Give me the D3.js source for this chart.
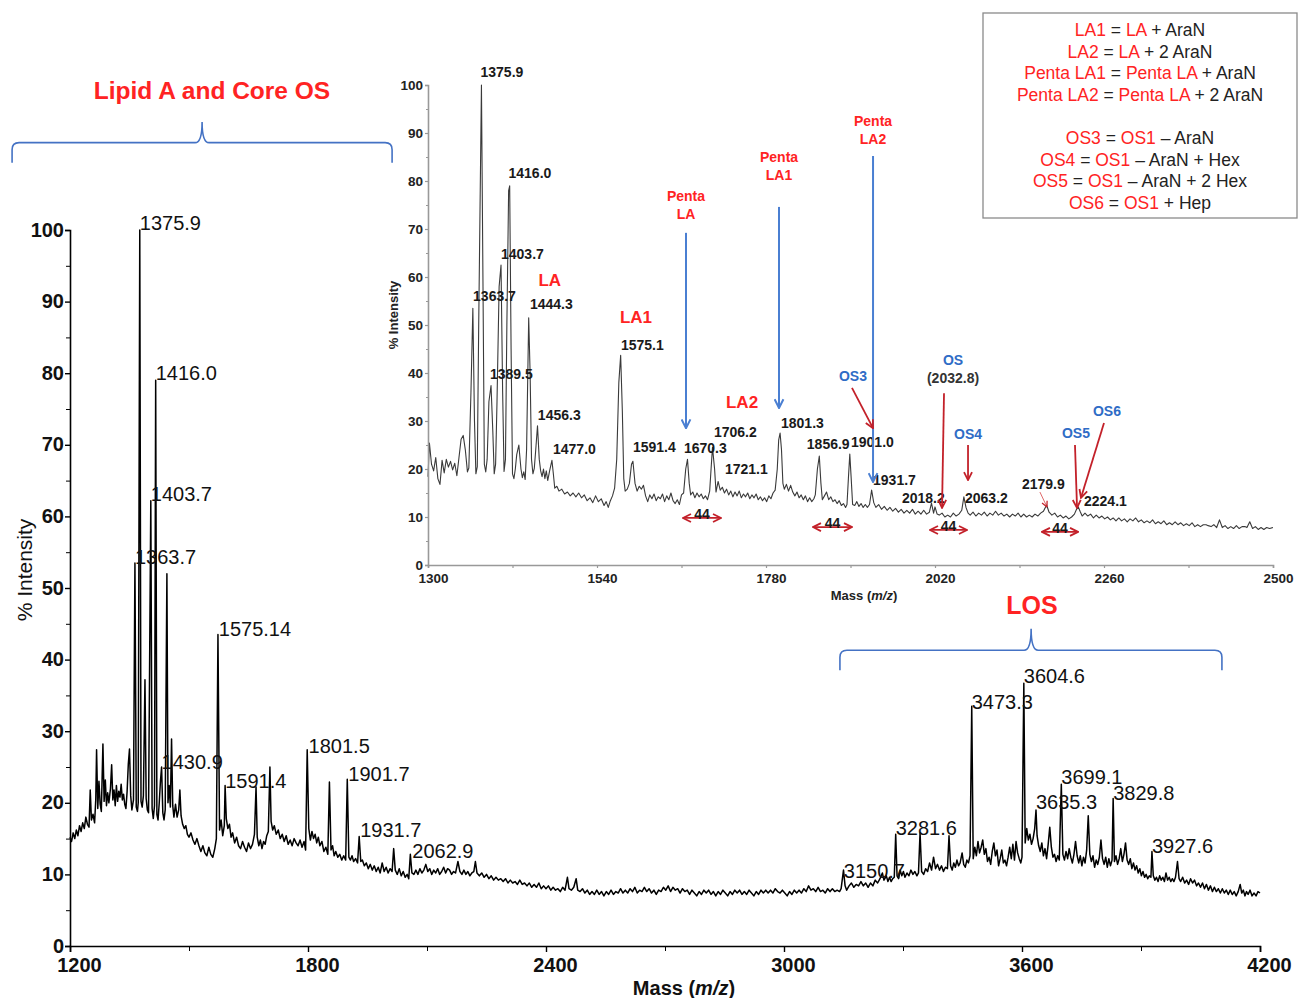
<!DOCTYPE html>
<html>
<head>
<meta charset="utf-8">
<script src="https://d3js.org/d3.v7.min.js"></script>
<style>
  body { margin: 0; background: #fff; }
  svg { display: block; font-family: "Liberation Sans", Arial, sans-serif; }
</style>
</head>
<body>
<div id="chart"></div>
<script>
// ---- main spectrum (mass, % intensity) ----
var mainSpectrum = [
  [1200,15.2],[1204,14.6],[1208,15.8],[1212,15.0],[1216,16.2],[1220,15.4],[1224,16.8],[1228,16.0],[1232,17.2],[1236,16.4],
  [1240,18.0],[1244,17.0],[1248,16.6],[1251,21.8],[1254,17.6],[1258,18.4],[1262,17.2],[1265,20.5],[1267,27.4],[1270,19.2],
  [1273,23.0],[1276,19.8],[1279,18.8],[1283,28.2],[1286,20.2],[1289,23.2],[1292,19.6],[1295,21.4],[1298,20.0],[1302,22.0],
  [1305,25.3],[1308,20.4],[1311,21.8],[1314,19.6],[1317,22.4],[1320,20.2],[1323,21.6],[1326,20.8],[1329,22.6],[1332,20.4],
  [1335,21.2],[1338,19.8],[1341,19.2],[1344,21.6],[1347,25.4],[1350,27.5],[1353,21.0],[1356,19.0],[1360,20.4],[1363.7,53.5],
  [1367,19.4],[1370,18.8],[1372,20.0],[1375.9,100],[1379,20.2],[1382,19.4],[1385,21.0],[1389,37.2],[1392,20.6],[1395,19.0],
  [1398,18.6],[1403.7,62.2],[1407,19.2],[1410,17.8],[1413,19.6],[1416,79],[1419,18.4],[1422,17.6],[1425,20.0],[1428,23.0],
  [1430.9,25.0],[1434,18.6],[1437,17.6],[1440,19.0],[1444.3,52.0],[1447,20.0],[1450,22.4],[1453,19.4],[1456,28.9],[1459,19.6],
  [1462,18.0],[1466,19.8],[1470,18.0],[1474,19.0],[1477,21.8],[1480,18.2],[1484,17.0],[1488,16.4],[1492,16.8],[1496,15.6],
  [1500,15.2],[1505,15.8],[1510,14.8],[1515,14.2],[1520,15.0],[1525,14.0],[1530,13.2],[1535,14.0],[1540,13.0],[1545,12.6],
  [1550,13.8],[1555,12.8],[1560,12.4],[1565,13.6],[1569,15.0],[1573,43.5],[1577,16.2],[1581,17.6],[1585,15.4],[1589,16.8],
  [1591,22.4],[1594,17.8],[1598,16.4],[1602,17.0],[1606,15.2],[1610,15.8],[1615,14.4],[1620,15.2],[1625,14.0],[1630,13.6],
  [1635,14.6],[1640,13.8],[1645,13.2],[1650,14.4],[1655,13.6],[1660,14.2],[1665,15.6],[1669,22.2],[1672,15.2],[1676,14.0],
  [1680,14.8],[1684,13.6],[1688,14.6],[1692,14.2],[1696,15.4],[1700,16.0],[1704,25.0],[1707,17.4],[1711,16.2],[1715,16.8],
  [1720,15.6],[1725,16.2],[1730,15.0],[1735,15.6],[1740,14.6],[1745,15.4],[1750,14.2],[1755,14.8],[1760,14.0],[1765,15.0],
  [1770,14.4],[1775,14.0],[1780,14.8],[1785,13.8],[1790,14.6],[1794,13.4],[1798,27.4],[1802,16.4],[1806,14.8],[1810,16.0],
  [1814,15.0],[1818,15.6],[1822,14.4],[1826,15.2],[1830,14.0],[1835,14.6],[1840,13.2],[1845,13.8],[1850,12.8],[1854,22.9],
  [1858,13.4],[1862,14.0],[1866,12.6],[1870,13.2],[1875,12.4],[1880,12.8],[1885,12.0],[1890,12.6],[1895,12.0],[1899,23.3],
  [1903,12.4],[1907,12.0],[1911,12.6],[1915,11.8],[1920,12.2],[1925,11.6],[1929,15.3],[1933,11.8],[1937,12.0],[1942,11.2],
  [1947,11.6],[1952,10.8],[1957,11.4],[1962,10.6],[1967,11.2],[1972,10.4],[1977,11.0],[1982,10.2],[1987,11.6],[1992,10.4],
  [1997,11.0],[2002,10.2],[2007,10.8],[2012,10.4],[2016,13.6],[2020,10.6],[2025,10.0],[2030,10.8],[2035,9.8],[2040,10.4],
  [2045,9.6],[2050,10.0],[2054,9.4],[2058,12.8],[2062,10.2],[2067,10.0],[2072,10.6],[2077,10.0],[2082,10.8],[2087,10.2],
  [2092,10.6],[2097,11.4],[2102,10.4],[2107,10.8],[2112,10.0],[2117,10.6],[2122,10.2],[2127,10.8],[2132,10.0],[2137,10.4],
  [2142,11.0],[2147,10.2],[2152,10.8],[2157,10.6],[2162,10.0],[2167,10.4],[2172,10.2],[2178,11.8],[2183,10.4],[2188,10.0],
  [2193,10.6],[2198,10.0],[2203,10.4],[2208,9.8],[2213,10.2],[2218,10.4],[2222,11.8],[2226,10.2],[2232,9.8],[2238,10.2],
  [2244,9.6],[2250,10.0],[2256,9.4],[2262,9.8],[2268,9.2],[2274,9.6],[2280,9.2],[2286,9.4],[2292,9.0],[2298,9.4],
  [2304,8.8],[2310,9.2],[2316,8.8],[2322,9.0],[2328,8.6],[2334,9.2],[2340,8.6],[2346,8.8],[2352,8.4],[2358,8.8],
  [2364,8.2],[2370,8.6],[2376,8.2],[2382,8.8],[2388,8.0],[2394,8.4],[2400,8.0],[2406,8.4],[2412,7.8],[2418,8.2],
  [2424,7.8],[2430,8.0],[2436,7.6],[2442,8.2],[2448,7.8],[2454,9.6],[2458,8.0],[2464,7.8],[2470,8.2],[2476,9.4],
  [2480,7.8],[2486,7.6],[2492,8.0],[2498,7.4],[2504,7.8],[2510,7.2],[2516,7.6],[2522,7.2],[2528,7.8],[2534,7.2],
  [2540,7.6],[2546,7.0],[2552,7.6],[2558,7.2],[2564,7.8],[2570,7.2],[2576,7.6],[2582,7.4],[2588,8.0],[2594,7.4],
  [2600,7.8],[2606,7.4],[2612,8.0],[2618,7.6],[2624,8.2],[2630,7.4],[2636,7.8],[2642,7.6],[2648,8.2],[2654,7.6],
  [2660,8.0],[2666,7.4],[2672,7.8],[2678,7.2],[2684,7.8],[2690,7.6],[2696,8.2],[2702,7.8],[2708,8.4],[2714,7.6],
  [2720,8.2],[2726,7.8],[2732,8.0],[2738,7.4],[2744,8.0],[2750,7.6],[2756,7.8],[2762,7.2],[2768,7.8],[2774,7.4],
  [2780,7.0],[2786,7.6],[2792,7.2],[2798,7.8],[2804,7.4],[2810,7.8],[2816,7.2],[2822,7.6],[2828,7.0],[2834,7.6],
  [2840,7.2],[2846,7.8],[2852,7.4],[2858,7.0],[2864,7.6],[2870,7.2],[2876,7.8],[2882,7.4],[2888,7.8],[2894,7.2],
  [2900,7.6],[2906,7.2],[2912,7.8],[2918,7.4],[2924,7.0],[2930,7.6],[2936,7.2],[2942,7.8],[2948,7.4],[2954,7.8],
  [2960,7.4],[2966,7.8],[2972,7.4],[2978,8.0],[2984,7.6],[2990,7.4],[2996,7.8],[3002,7.4],[3008,7.0],[3014,7.6],
  [3020,7.2],[3026,7.8],[3032,7.4],[3038,7.8],[3044,7.4],[3050,8.0],[3056,7.6],[3062,8.4],[3068,7.8],[3074,8.0],
  [3080,7.6],[3086,8.2],[3092,7.6],[3098,7.8],[3104,7.4],[3110,8.0],[3116,7.6],[3122,8.0],[3128,7.6],[3134,7.8],
  [3140,7.6],[3144,8.0],[3150,10.6],[3154,8.4],[3158,7.8],[3164,8.4],[3170,8.8],[3176,8.2],[3182,8.6],[3188,8.4],
  [3194,9.0],[3200,8.4],[3206,8.8],[3212,8.2],[3218,8.8],[3224,8.4],[3230,9.2],[3236,8.8],[3242,9.4],[3248,10.2],
  [3252,9.2],[3258,9.8],[3262,9.0],[3266,9.6],[3270,9.0],[3274,9.4],[3278,9.6],[3281.6,15.6],[3285,9.8],[3289,9.4],
  [3293,10.6],[3297,9.8],[3301,10.4],[3305,9.6],[3310,10.2],[3315,9.8],[3320,10.6],[3325,10.0],[3330,10.4],[3335,9.8],
  [3339,10.2],[3343,15.8],[3347,10.4],[3352,10.0],[3357,10.8],[3362,10.4],[3367,11.6],[3372,10.6],[3377,12.4],[3382,10.8],
  [3387,11.4],[3392,10.6],[3397,11.2],[3402,10.4],[3407,11.0],[3412,10.8],[3416,15.4],[3420,11.2],[3424,10.6],[3428,11.6],
  [3432,11.0],[3436,12.0],[3440,11.2],[3444,11.6],[3449,13.0],[3453,11.4],[3457,11.0],[3461,12.0],[3465,11.6],[3469,12.6],
  [3473.3,33.5],[3477,12.2],[3481,13.8],[3485,12.6],[3489,14.6],[3493,13.0],[3497,13.8],[3501,14.8],[3505,12.8],[3509,13.6],
  [3513,11.8],[3517,12.4],[3521,11.4],[3525,13.2],[3529,14.4],[3533,12.6],[3537,13.4],[3541,11.2],[3545,12.2],[3549,13.4],
  [3553,11.6],[3557,12.0],[3561,11.2],[3565,12.4],[3569,13.8],[3573,12.2],[3577,14.2],[3581,12.0],[3585,14.6],[3589,13.0],
  [3593,12.2],[3597,11.6],[3600,12.4],[3604.6,36.7],[3608,14.4],[3612,16.4],[3616,14.8],[3620,15.6],[3624,14.2],[3628,15.0],
  [3632,16.4],[3635.3,19.0],[3638,15.4],[3642,14.0],[3646,13.2],[3650,14.4],[3654,12.6],[3658,13.6],[3662,12.2],[3666,14.2],
  [3670,16.6],[3674,13.8],[3678,12.4],[3682,12.8],[3686,11.8],[3690,12.6],[3694,12.0],[3699.1,22.6],[3703,12.8],[3707,12.0],
  [3711,13.2],[3715,12.2],[3719,13.6],[3723,12.4],[3727,11.6],[3731,12.8],[3735,14.6],[3739,12.6],[3743,11.6],[3747,12.6],
  [3751,11.2],[3755,12.4],[3759,11.6],[3763,13.4],[3767,18.2],[3771,12.8],[3775,11.8],[3779,12.6],[3783,11.0],[3787,12.0],
  [3791,11.4],[3795,12.4],[3799,14.8],[3803,12.2],[3807,11.4],[3811,12.4],[3815,11.0],[3819,12.2],[3823,11.2],[3827,12.0],
  [3829.8,20.6],[3833,11.8],[3837,12.6],[3841,11.4],[3845,12.2],[3849,13.6],[3853,11.8],[3857,12.8],[3861,14.4],[3865,12.0],
  [3869,11.4],[3873,12.2],[3877,10.8],[3881,11.6],[3885,10.6],[3889,11.2],[3893,10.2],[3897,10.8],[3901,9.8],[3905,10.4],
  [3909,9.6],[3913,10.0],[3917,9.4],[3921,9.8],[3925,9.6],[3927.6,13.2],[3931,9.8],[3935,9.2],[3939,9.6],[3943,9.0],
  [3947,9.8],[3951,9.2],[3955,9.6],[3959,9.0],[3963,10.2],[3967,9.2],[3971,9.6],[3975,9.0],[3979,9.4],[3983,9.0],
  [3987,9.6],[3992,11.8],[3996,9.4],[4000,9.0],[4005,9.6],[4010,8.8],[4015,9.2],[4020,8.6],[4025,9.4],[4030,8.8],
  [4035,9.2],[4040,8.4],[4045,8.8],[4050,8.2],[4055,8.8],[4060,8.0],[4065,8.6],[4070,7.8],[4075,8.4],[4080,7.6],
  [4085,8.2],[4090,7.6],[4095,8.0],[4100,7.4],[4105,8.0],[4110,7.4],[4115,7.8],[4120,7.2],[4125,7.8],[4130,7.2],
  [4135,7.6],[4140,7.0],[4145,7.6],[4150,8.6],[4154,7.4],[4158,7.8],[4162,7.0],[4166,7.6],[4170,7.2],[4175,7.8],
  [4180,7.0],[4185,7.4],[4190,7.0],[4195,7.6],[4200,7.4]
];

// labelled peaks in the main panel: text, mass (text start), intensity (text baseline)
var mainPeakLabels = [
  ["1375.9",1375.9,100],["1416.0",1416,79],["1403.7",1403.7,62.2],["1363.7",1363.7,53.4],
  ["1575.14",1575.14,43.3],["1430.9",1430.9,24.7],["1591.4",1591.4,22.1],["1801.5",1801.5,27],
  ["1901.7",1901.7,23],["1931.7",1931.7,15.2],["2062.9",2062.9,12.3],["3150.7",3150.7,9.5],
  ["3281.6",3281.6,15.5],["3473.3",3473.3,33.1],["3604.6",3604.6,36.7],["3699.1",3699.1,22.6],
  ["3635.3",3635.3,19.1],["3829.8",3829.8,20.4],["3927.6",3927.6,13]
];
var mainXTicks = [1200, 1800, 2400, 3000, 3600, 4200];
var mainXMinor = [1500, 2100, 2700, 3300, 3900];
var mainYTicks = [0, 10, 20, 30, 40, 50, 60, 70, 80, 90, 100];
var mainYMinor = [5, 15, 25, 35, 45, 55, 65, 75, 85, 95];

// region braces: from, to, middle (mass); foot, bar, tip (intensity)
var braceSpans = [[1054, 2012, 1533, 109.4, 112.2, 115.1], [3141, 4104, 3623, 38.5, 41.3, 44.3]];
var braceTitles = [["Lipid A and Core OS", 1558, 118.3], ["LOS", 3625, 46.4]];

// ---- zoomed inset spectrum ----
var insetSpectrum = [
  [1300,18.4],[1302,25.4],[1305,21.0],[1308,19.6],[1311,22.4],[1314,18.0],[1317,16.8],[1320,21.8],[1323,19.2],[1326,22.0],
  [1329,20.4],[1332,21.6],[1335,19.8],[1338,21.2],[1341,18.6],[1344,22.4],[1347,26.2],[1350,27.0],[1353,24.0],[1356,19.4],
  [1358,20.2],[1361,36.0],[1363.7,53.5],[1366,30.0],[1368,19.0],[1370,20.5],[1372,50.0],[1375.9,100],[1378,60.0],[1380,21.0],
  [1382,19.4],[1384,22.0],[1386.5,34.0],[1389.5,37.4],[1392,28.0],[1394,19.0],[1396,21.0],[1398,34.0],[1401,58.0],[1403.7,62.5],
  [1406,36.0],[1408,19.5],[1410,22.0],[1412,50.0],[1414.5,78.0],[1416,79.0],[1418,45.0],[1420,19.0],[1422,18.0],[1424,20.0],
  [1426,23.0],[1429,25.0],[1432,20.0],[1434,18.2],[1436,19.4],[1438,17.8],[1440,24.0],[1443,51.5],[1445,40.0],[1447,22.0],
  [1449,19.0],[1451,20.2],[1453,24.0],[1455.5,29.0],[1458,22.0],[1460,19.6],[1462,18.4],[1464,20.0],[1466,18.0],[1468,19.6],
  [1470,17.6],[1473,19.8],[1476,21.8],[1478,19.0],[1480,16.0],[1483,16.4],[1486,15.4],[1490,15.8],[1494,14.8],[1498,15.2],
  [1502,14.4],[1506,15.0],[1510,14.2],[1514,15.0],[1518,14.0],[1522,14.6],[1526,13.4],[1530,14.0],[1534,13.0],[1538,14.4],
  [1542,13.2],[1546,13.8],[1550,12.4],[1553,13.2],[1556,12.0],[1559,13.4],[1562,14.4],[1565,16.0],[1568,22.0],[1571,38.0],
  [1573.6,43.7],[1576,32.0],[1578,18.0],[1580,15.4],[1583,15.8],[1586,17.0],[1589,21.0],[1591,21.6],[1594,17.0],[1597,15.4],
  [1600,16.4],[1603,15.8],[1606,16.6],[1609,14.4],[1612,13.2],[1615,14.6],[1618,13.8],[1621,14.8],[1624,13.4],[1627,14.2],
  [1630,13.8],[1633,14.8],[1636,13.2],[1639,14.4],[1642,13.6],[1645,15.0],[1648,13.4],[1651,12.8],[1654,13.6],[1657,12.6],
  [1660,14.6],[1663,15.0],[1666,20.0],[1668.5,22.0],[1671,17.0],[1673,14.6],[1676,15.2],[1679,14.0],[1682,15.0],[1685,14.2],
  [1688,14.8],[1691,13.8],[1694,14.4],[1697,13.6],[1700,15.4],[1702,20.0],[1704,24.5],[1707,20.0],[1709,15.2],[1712,17.4],
  [1715,15.6],[1718,16.2],[1721,15.0],[1724,15.8],[1727,14.6],[1730,15.4],[1733,14.2],[1736,15.2],[1739,14.4],[1742,15.4],
  [1745,14.0],[1748,14.8],[1751,14.2],[1754,15.0],[1757,13.8],[1760,14.6],[1763,14.0],[1766,14.8],[1769,13.6],[1772,14.2],
  [1775,13.4],[1778,14.0],[1781,13.2],[1784,14.4],[1787,13.8],[1790,15.0],[1793,15.6],[1796,20.0],[1798,26.0],[1800,27.5],
  [1802,24.0],[1804,17.0],[1806,15.8],[1809,16.8],[1812,15.4],[1815,16.6],[1818,15.2],[1821,14.4],[1824,15.2],[1827,14.0],
  [1830,14.6],[1833,13.6],[1836,14.4],[1839,13.2],[1842,14.0],[1845,13.2],[1848,13.8],[1850,14.6],[1853,20.0],[1855.7,22.7],
  [1858,17.0],[1860,13.6],[1863,14.4],[1866,15.2],[1869,13.6],[1872,14.2],[1875,13.2],[1878,13.6],[1881,12.8],[1884,13.4],
  [1887,12.4],[1890,12.8],[1893,12.0],[1895,12.6],[1897,18.0],[1899,23.1],[1901,18.0],[1903,12.6],[1906,12.4],[1909,13.2],
  [1912,12.2],[1915,12.8],[1918,12.0],[1921,12.6],[1924,12.0],[1927,12.6],[1930,15.6],[1933,13.0],[1936,12.0],[1940,12.6],
  [1944,11.6],[1948,12.2],[1952,11.4],[1956,12.0],[1960,11.2],[1964,11.8],[1968,11.0],[1972,11.6],[1976,10.8],[1980,11.4],
  [1984,10.8],[1988,11.6],[1992,10.6],[1996,11.2],[2000,10.6],[2004,11.4],[2008,10.6],[2012,11.0],[2015,12.9],[2018,10.8],
  [2020,12.1],[2023,10.6],[2026,10.4],[2030,10.8],[2034,10.0],[2038,10.4],[2042,10.0],[2046,10.8],[2050,10.2],[2054,10.6],
  [2058,11.4],[2061,14.2],[2064,12.0],[2067,10.8],[2070,10.4],[2074,11.0],[2078,10.2],[2082,10.8],[2086,10.4],[2090,11.0],
  [2094,10.2],[2098,10.8],[2102,10.4],[2106,11.2],[2110,10.4],[2114,10.8],[2118,10.2],[2122,10.6],[2126,10.0],[2130,10.6],
  [2134,10.2],[2138,10.8],[2142,10.0],[2146,10.6],[2150,10.0],[2154,10.4],[2158,10.0],[2162,10.6],[2166,10.2],[2170,10.8],
  [2174,11.2],[2178.5,12.5],[2182,11.0],[2186,10.4],[2190,10.8],[2194,10.0],[2198,10.4],[2202,9.8],[2206,10.2],[2210,9.6],
  [2214,10.0],[2218,10.6],[2221,11.6],[2223.5,12.1],[2226,11.2],[2229,10.2],[2233,10.8],[2237,10.2],[2241,10.6],[2245,9.8],
  [2249,10.4],[2253,9.8],[2257,10.2],[2261,9.6],[2265,10.0],[2269,9.4],[2273,9.8],[2277,9.2],[2281,9.8],[2285,9.2],
  [2289,9.6],[2293,9.0],[2297,9.6],[2301,9.2],[2305,9.8],[2309,9.0],[2313,9.4],[2317,8.8],[2321,9.2],[2325,8.8],
  [2329,9.4],[2333,8.6],[2337,9.0],[2341,8.6],[2345,9.2],[2349,8.4],[2353,8.8],[2357,8.4],[2361,9.0],[2365,8.4],
  [2369,8.8],[2373,8.2],[2377,8.6],[2381,8.2],[2385,8.8],[2389,8.0],[2393,8.4],[2397,8.0],[2401,8.4],[2405,8.4],
  [2408,8.2],[2412,8.0],[2416,8.4],[2420,7.8],[2424,9.4],[2428,7.8],[2432,8.2],[2436,7.6],[2440,8.0],[2444,7.6],
  [2448,8.2],[2452,7.6],[2456,8.0],[2460,8.0],[2463,7.8],[2467,9.0],[2471,7.6],[2475,8.0],[2479,7.4],[2483,7.8],
  [2487,7.4],[2491,7.8],[2495,7.6],[2500,7.8]
];

var insetPeakLabels = [
  ["1375.9",1374.6,101.7],["1416.0",1414.3,80.6],["1403.7",1403.7,63.8],["1363.7",1364,55],
  ["1444.3",1444.8,53.3],["1389.5",1388,38.8],["1456.3",1456,30.2],["1477.0",1477.5,23.1],
  ["1575.1",1574,44.8],["1591.4",1591,23.5],["1670.3",1663.5,23.3],["1706.2",1706,26.7],
  ["1721.1",1721.7,19],["1801.3",1801.3,28.5],["1856.9",1838,24.2],["1901.0",1900.7,24.6],
  ["1931.7",1932,16.7],["2018.2",1973,12.9],["2063.2",2062.6,12.9],["2179.9",2143.5,15.8],
  ["2224.1",2231.6,12.3]
];
var insetXTicks = [1300, 1540, 1780, 2020, 2260, 2500];
var insetXMinor = [1420, 1660, 1900, 2140, 2380];
var insetYTicks = [0, 10, 20, 30, 40, 50, 60, 70, 80, 90, 100];
var insetYMinor = [5, 15, 25, 35, 45, 55, 65, 75, 85, 95];

// structure assignments in the inset
var lipidLabels = [["LA", 1473, 58.1], ["LA1", 1595.4, 50.4], ["LA2", 1746, 32.7]];
var pentaLabels = [["LA", 1666.4, 75.8], ["LA1", 1798.5, 84], ["LA2", 1932, 91.5]];
var pentaArrows = [[1666.4, 69.2, 28.5], [1798.5, 74.6, 32.7], [1932, 85.2, 17.3]];
var osLabels = [["OS3", 1903.5, 38.3], ["OS", 2045.6, 41.7], ["OS4", 2066.9, 26.25], ["OS5", 2220.2, 26.5], ["OS6", 2264.2, 31]];
var osMassNote = ["(2032.8)", 2045.6, 37.9];
var osArrows = [[1902.1, 36.9, 1932, 28.5], [2032.8, 35.8, 2030, 11.9], [2066.9, 25, 2066.9, 17.7],
                [2218.8, 25, 2221.7, 11.9], [2260, 29.6, 2227.3, 14]];
var minorArrows = [[2169, 15.2, 2179, 12.1]];
var gapArrows = [[1662.1, 1716.1, 9.8], [1846.7, 1902.1, 7.9], [2012.9, 2065.4, 7.3], [2171.9, 2223.1, 6.9]];
var gapText = "44";

// legend equations: pieces flagged true are structure names (red)
var legendLines = [
  [["LA1", true], [" = ", false], ["LA", true], [" + AraN", false]],
  [["LA2", true], [" = ", false], ["LA", true], [" + 2 AraN", false]],
  [["Penta LA1", true], [" = ", false], ["Penta LA", true], [" + AraN", false]],
  [["Penta LA2", true], [" = ", false], ["Penta LA", true], [" + 2 AraN", false]],
  null,
  [["OS3", true], [" = ", false], ["OS1", true], [" \u2013 AraN", false]],
  [["OS4", true], [" = ", false], ["OS1", true], [" \u2013 AraN + Hex", false]],
  [["OS5", true], [" = ", false], ["OS1", true], [" \u2013 AraN + 2 Hex", false]],
  [["OS6", true], [" = ", false], ["OS1", true], [" + Hep", false]]
];

var RED = "#ff2323", BLUE_TXT = "#2f6cc6", BLUE_LN = "#4a7fd2", DARK_RED = "#c3212a", BRACE = "#4472c4";

var width = 1305, height = 998;
var svg = d3.select("#chart").append("svg").attr("width", width).attr("height", height);

var defs = svg.append("defs");
function addMarker(id, color, size) {
  defs.append("marker")
    .attr("id", id)
    .attr("viewBox", "0 0 10 10")
    .attr("refX", 9).attr("refY", 5)
    .attr("markerWidth", size).attr("markerHeight", size)
    .attr("markerUnits", "userSpaceOnUse")
    .attr("orient", "auto-start-reverse")
    .append("path")
    .attr("d", "M1,1 L9,5 L1,9")
    .attr("fill", "none")
    .attr("stroke", color)
    .attr("stroke-width", 1.8);
}
addMarker("headBlue", BLUE_LN, 11);
addMarker("headRed", DARK_RED, 10);
addMarker("headRedSmall", DARK_RED, 7);

// ================= main panel =================
var xMain = d3.scaleLinear().domain([1200, 4200]).range([70, 1260]);
var yMain = d3.scaleLinear().domain([0, 100]).range([946, 230]);

var gMain = svg.append("g");

gMain.append("path")
  .datum(mainSpectrum)
  .attr("fill", "none")
  .attr("stroke", "#000")
  .attr("stroke-width", 1.5)
  .attr("stroke-linejoin", "round")
  .attr("d", d3.line().x(function(d) { return xMain(d[0]); }).y(function(d) { return yMain(d[1]); }));

// axes
var mx = gMain.append("g").attr("transform", "translate(0," + yMain(0) + ")")
  .call(d3.axisBottom(xMain).tickValues(mainXTicks).tickSize(6).tickPadding(6).tickFormat(d3.format("d")));
gMain.append("g").attr("transform", "translate(0," + yMain(0) + ")")
  .call(d3.axisBottom(xMain).tickValues(mainXMinor).tickSize(5).tickFormat(""))
  .select(".domain").remove();
var my = gMain.append("g").attr("transform", "translate(" + xMain(1200) + ",0)")
  .call(d3.axisLeft(yMain).tickValues(mainYTicks).tickSize(5).tickPadding(1));
gMain.append("g").attr("transform", "translate(" + xMain(1200) + ",0)")
  .call(d3.axisLeft(yMain).tickValues(mainYMinor).tickSize(4).tickFormat(""))
  .select(".domain").remove();

[mx, my].forEach(function(ax) {
  ax.select(".domain").attr("stroke", "#000").attr("stroke-width", 1.6);
  ax.selectAll(".tick line").attr("stroke", "#000").attr("stroke-width", 1.4);
  ax.selectAll(".tick text").attr("font-family", "Liberation Sans, Arial, sans-serif")
    .attr("font-size", 20).attr("font-weight", "bold").attr("fill", "#111");
});
mx.selectAll(".tick text").attr("dx", 9);
my.selectAll(".tick text").attr("dy", "0.3em");
gMain.selectAll("g .tick line").attr("stroke", "#000");

// axis titles
var mt = gMain.append("text")
  .attr("x", 684).attr("y", 995)
  .attr("text-anchor", "middle")
  .attr("font-size", 20).attr("font-weight", "bold").attr("fill", "#111");
mt.append("tspan").text("Mass (");
mt.append("tspan").attr("font-style", "italic").text("m/z");
mt.append("tspan").text(")");

gMain.append("text")
  .attr("transform", "translate(32,570) rotate(-90)")
  .attr("text-anchor", "middle")
  .attr("font-size", 21).attr("fill", "#111")
  .text("% Intensity");

// peak labels
gMain.selectAll("text.peak")
  .data(mainPeakLabels)
  .enter().append("text")
  .attr("class", "peak")
  .attr("x", function(d) { return xMain(d[1]); })
  .attr("y", function(d) { return yMain(d[2]); })
  .attr("font-size", 20).attr("fill", "#111")
  .text(function(d) { return d[0]; });

// region braces
function bracePath(b) {
  var x0 = xMain(b[0]), x1 = xMain(b[1]), xc = xMain(b[2]);
  var yFoot = yMain(b[3]), yBar = yMain(b[4]), yTip = yMain(b[5]), r = 7;
  return "M" + x0 + "," + yFoot + " L" + x0 + "," + (yBar + r) +
    " Q" + x0 + "," + yBar + " " + (x0 + r) + "," + yBar +
    " L" + (xc - r) + "," + yBar + " Q" + xc + "," + yBar + " " + xc + "," + yTip +
    " Q" + xc + "," + yBar + " " + (xc + r) + "," + yBar +
    " L" + (x1 - r) + "," + yBar + " Q" + x1 + "," + yBar + " " + x1 + "," + (yBar + r) +
    " L" + x1 + "," + yFoot;
}
gMain.selectAll("path.brace")
  .data(braceSpans)
  .enter().append("path")
  .attr("class", "brace")
  .attr("d", bracePath)
  .attr("fill", "none")
  .attr("stroke", BRACE)
  .attr("stroke-width", 1.6);

gMain.selectAll("text.region")
  .data(braceTitles)
  .enter().append("text")
  .attr("class", "region")
  .attr("x", function(d) { return xMain(d[1]); })
  .attr("y", function(d) { return yMain(d[2]); })
  .attr("text-anchor", "middle")
  .attr("font-weight", "bold")
  .attr("font-size", function(d, i) { return i === 0 ? 24.5 : 25; })
  .attr("fill", RED)
  .text(function(d) { return d[0]; });

// ================= inset panel =================
var xIn = d3.scaleLinear().domain([1300, 2500]).range([428, 1273]);
var yIn = d3.scaleLinear().domain([0, 100]).range([565, 85]);
var gIn = svg.append("g");

gIn.append("path")
  .datum(insetSpectrum)
  .attr("fill", "none")
  .attr("stroke", "#3a3a3a")
  .attr("stroke-width", 1.1)
  .attr("stroke-linejoin", "round")
  .attr("d", d3.line().x(function(d) { return xIn(d[0]); }).y(function(d) { return yIn(d[1]); }));

var ix = gIn.append("g").attr("transform", "translate(0," + yIn(0) + ")")
  .call(d3.axisBottom(xIn).tickValues(insetXTicks).tickSize(3).tickPadding(5).tickFormat(d3.format("d")));
var ixm = gIn.append("g").attr("transform", "translate(0," + yIn(0) + ")")
  .call(d3.axisBottom(xIn).tickValues(insetXMinor).tickSize(3).tickFormat(""));
var iy = gIn.append("g").attr("transform", "translate(" + xIn(1300) + ",0)")
  .call(d3.axisLeft(yIn).tickValues(insetYTicks).tickSize(3).tickPadding(2));
var iym = gIn.append("g").attr("transform", "translate(" + xIn(1300) + ",0)")
  .call(d3.axisLeft(yIn).tickValues(insetYMinor).tickSize(2).tickFormat(""));
ixm.select(".domain").remove();
iym.select(".domain").remove();
[ix, ixm, iy, iym].forEach(function(ax) {
  ax.select(".domain").attr("stroke", "#999").attr("stroke-width", 1.6);
  ax.selectAll(".tick line").attr("stroke", "#999").attr("stroke-width", 1.2);
  ax.selectAll(".tick text").attr("font-family", "Liberation Sans, Arial, sans-serif")
    .attr("font-size", 13.5).attr("font-weight", "bold").attr("fill", "#222");
});
ix.selectAll(".tick text").attr("dx", 5);

var it = gIn.append("text")
  .attr("x", 864).attr("y", 600)
  .attr("text-anchor", "middle")
  .attr("font-size", 13).attr("font-weight", "bold").attr("fill", "#222");
it.append("tspan").text("Mass (");
it.append("tspan").attr("font-style", "italic").text("m/z");
it.append("tspan").text(")");

gIn.append("text")
  .attr("transform", "translate(398,315) rotate(-90)")
  .attr("text-anchor", "middle")
  .attr("font-size", 13).attr("font-weight", "bold").attr("fill", "#222")
  .text("% Intensity");

gIn.selectAll("text.ipeak")
  .data(insetPeakLabels)
  .enter().append("text")
  .attr("class", "ipeak")
  .attr("x", function(d) { return xIn(d[1]); })
  .attr("y", function(d) { return yIn(d[2]); })
  .attr("font-size", 14).attr("font-weight", "bold").attr("fill", "#1a1a1a")
  .text(function(d) { return d[0]; });

// lipid A labels
gIn.selectAll("text.lipid")
  .data(lipidLabels)
  .enter().append("text")
  .attr("class", "lipid")
  .attr("x", function(d) { return xIn(d[1]); })
  .attr("y", function(d) { return yIn(d[2]); })
  .attr("text-anchor", "middle")
  .attr("font-size", 17).attr("font-weight", "bold").attr("fill", RED)
  .text(function(d) { return d[0]; });

// penta lipid A labels (two lines) with blue arrows
var penta = gIn.selectAll("text.penta")
  .data(pentaLabels)
  .enter().append("text")
  .attr("class", "penta")
  .attr("x", function(d) { return xIn(d[1]); })
  .attr("y", function(d) { return yIn(d[2]); })
  .attr("text-anchor", "middle")
  .attr("font-size", 14).attr("font-weight", "bold").attr("fill", RED);
penta.append("tspan").text("Penta");
penta.append("tspan")
  .attr("x", function(d) { return xIn(d[1]); })
  .attr("dy", 18)
  .text(function(d) { return d[0]; });

gIn.selectAll("line.penta")
  .data(pentaArrows)
  .enter().append("line")
  .attr("class", "penta")
  .attr("x1", function(d) { return xIn(d[0]); })
  .attr("x2", function(d) { return xIn(d[0]); })
  .attr("y1", function(d) { return yIn(d[1]); })
  .attr("y2", function(d) { return yIn(d[2]); })
  .attr("stroke", BLUE_LN).attr("stroke-width", 2)
  .attr("marker-end", "url(#headBlue)");

// oligosaccharide labels with red arrows
gIn.selectAll("text.os")
  .data(osLabels)
  .enter().append("text")
  .attr("class", "os")
  .attr("x", function(d) { return xIn(d[1]); })
  .attr("y", function(d) { return yIn(d[2]); })
  .attr("text-anchor", "middle")
  .attr("font-size", 14).attr("font-weight", "bold").attr("fill", BLUE_TXT)
  .text(function(d) { return d[0]; });

gIn.append("text")
  .attr("x", xIn(osMassNote[1])).attr("y", yIn(osMassNote[2]))
  .attr("text-anchor", "middle")
  .attr("font-size", 14).attr("font-weight", "bold").attr("fill", "#333")
  .text(osMassNote[0]);

gIn.selectAll("line.os")
  .data(osArrows)
  .enter().append("line")
  .attr("class", "os")
  .attr("x1", function(d) { return xIn(d[0]); })
  .attr("y1", function(d) { return yIn(d[1]); })
  .attr("x2", function(d) { return xIn(d[2]); })
  .attr("y2", function(d) { return yIn(d[3]); })
  .attr("stroke", DARK_RED).attr("stroke-width", 1.8)
  .attr("marker-end", "url(#headRed)");

gIn.selectAll("line.minor")
  .data(minorArrows)
  .enter().append("line")
  .attr("class", "minor")
  .attr("x1", function(d) { return xIn(d[0]); })
  .attr("y1", function(d) { return yIn(d[1]); })
  .attr("x2", function(d) { return xIn(d[2]); })
  .attr("y2", function(d) { return yIn(d[3]); })
  .attr("stroke", "#e06a6a").attr("stroke-width", 1)
  .attr("marker-end", "url(#headRedSmall)");

// 44 Da spacing arrows
gIn.selectAll("line.gap")
  .data(gapArrows)
  .enter().append("line")
  .attr("class", "gap")
  .attr("x1", function(d) { return xIn(d[0]); })
  .attr("x2", function(d) { return xIn(d[1]); })
  .attr("y1", function(d) { return yIn(d[2]); })
  .attr("y2", function(d) { return yIn(d[2]); })
  .attr("stroke", DARK_RED).attr("stroke-width", 1.8)
  .attr("marker-start", "url(#headRed)")
  .attr("marker-end", "url(#headRed)");

gIn.selectAll("text.gap")
  .data(gapArrows)
  .enter().append("text")
  .attr("class", "gap")
  .attr("x", function(d) { return (xIn(d[0]) + xIn(d[1])) / 2; })
  .attr("y", function(d) { return yIn(d[2]) + 1; })
  .attr("text-anchor", "middle")
  .attr("font-size", 14).attr("font-weight", "bold").attr("fill", "#1a1a1a")
  .text(gapText);

// ================= legend box =================
var gLeg = svg.append("g").attr("transform", "translate(983,13)");
gLeg.append("rect")
  .attr("width", 314).attr("height", 205)
  .attr("fill", "#fff")
  .attr("stroke", "#8a8a8a").attr("stroke-width", 1.3);

legendLines.forEach(function(line, i) {
  if (!line) return;
  var t = gLeg.append("text")
    .attr("x", 157).attr("y", 23 + i * 21.6)
    .attr("text-anchor", "middle")
    .attr("font-size", 17.5);
  line.forEach(function(part) {
    t.append("tspan").attr("fill", part[1] ? RED : "#222").text(part[0]);
  });
});
</script>
</body>
</html>
